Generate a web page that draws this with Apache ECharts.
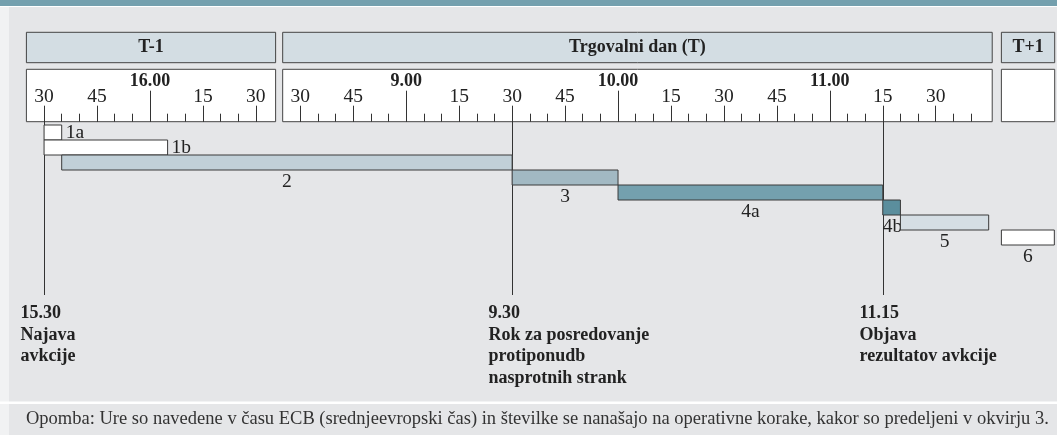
<!DOCTYPE html>
<html><head><meta charset="utf-8">
<script src="https://cdn.jsdelivr.net/npm/echarts@6/dist/echarts.min.js"></script>
<style>html,body{margin:0;padding:0;background:#e5e6e8}#c{width:1057px;height:435px}</style>
</head><body><div id="c"></div>
<script>
// ---------------- data ----------------
const dayKeys = ['T-1', 'T', 'T+1'];
const dayNames = ['T-1', 'Trgovalni dan (T)', 'T+1'];

const stepIds      = ['1a', '1b', '2', '3', '4a', '4b', '5', '6'];
const stepStartDay = ['T-1', 'T-1', 'T-1', 'T', 'T', 'T', 'T', 'T+1'];
const stepStart    = ['15.30', '15.30', '15.35', '9.30', '10.00', '11.15', '11.20', '9.00'];
const stepEndDay   = ['T-1', 'T-1', 'T', 'T', 'T', 'T', 'T', 'T+1'];
const stepEnd      = ['15.35', '16.05', '9.30', '10.00', '11.15', '11.20', '11.45', '9.15'];

const eventDay  = ['T-1', 'T', 'T'];
const eventTime = ['15.30', '9.30', '11.15'];
const eventText = ['Najava\navkcije', 'Rok za posredovanje\nprotiponudb\nnasprotnih strank', 'Objava\nrezultatov avkcije'];

// ruler tick labels
const quarterLabels = {
  'T-1': ['15.30', '15.45', '16.15', '16.30'],
  'T':   ['8.30', '8.45', '9.15', '9.30', '9.45', '10.15', '10.30', '10.45', '11.15', '11.30'],
  'T+1': []
};
const hourLabels = { 'T-1': ['16.00'], 'T': ['9.00', '10.00', '11.00'], 'T+1': [] };
const minorRange = { 'T-1': ['15.30', '16.30'], 'T': ['8.30', '11.40'], 'T+1': null };

const footnote = 'Opomba: Ure so navedene v času ECB (srednjeevropski čas) in številke se nanašajo na operativne korake, kakor so predeljeni v okvirju 3.';

// ---------------- layout ----------------
const PX = 3.53, X0 = 26.4;
const WIN = {
  'T-1': { from: 925, to: 995.6, off: 0 },
  'T':   { from: 505, to: 706,   off: 72.6 },
  'T+1': { from: 540, to: 555.1, off: 276.2 }
};
const VMAX = 291.3;
const SERIF = '"Liberation Serif", "Times New Roman", serif';
const STYLE = {
  '1a': { fill: '#ffffff', label: 'right' },
  '1b': { fill: '#ffffff', label: 'right' },
  '2':  { fill: '#c1d0d8', label: 'below' },
  '3':  { fill: '#a2b9c3', label: 'below' },
  '4a': { fill: '#74a0ae', label: 'below' },
  '4b': { fill: '#5b8e9d', label: 'belowLeft' },
  '5':  { fill: '#d5dee4', label: 'below' },
  '6':  { fill: '#ffffff', label: 'below' }
};

function toMin(s) { const p = s.split('.').map(Number); return p[0] * 60 + p[1]; }
function virt(day, s) { const w = WIN[day]; return w.off + toMin(s) - w.from; }

const grids = [], xAxes = [], yAxes = [], series = [], graphics = [];

// backgrounds
graphics.push({ type: 'rect', z: -100, silent: true, shape: { x: 0, y: 0, width: 1057, height: 6 }, style: { fill: '#74a0ae' } });
graphics.push({ type: 'rect', z: -100, silent: true, shape: { x: 0, y: 6, width: 1057, height: 1 }, style: { fill: '#ffffff' } });
graphics.push({ type: 'rect', z: -100, silent: true, shape: { x: 0, y: 7, width: 9, height: 428 }, style: { fill: '#f1f2f3' } });
graphics.push({ type: 'rect', z: -100, silent: true, shape: { x: 0, y: 401.5, width: 1057, height: 2.5 }, style: { fill: '#ffffff' } });
graphics.push({ type: 'text', z: 100, silent: true, x: 26, y: 419,
  style: { text: footnote, font: '18.5px ' + SERIF, fill: '#333', align: 'left', verticalAlign: 'middle', textAlign: 'left', textVerticalAlign: 'middle' } });

dayKeys.forEach((d, k) => {
  const w = WIN[d];
  const left = X0 + w.off * PX, width = (w.to - w.from) * PX;
  // header box
  grids.push({ left, top: 32.3, width, height: 30.4, show: true, backgroundColor: '#d3dde3', borderColor: '#444', borderWidth: 1 });
  let gi = grids.length - 1;
  xAxes.push({ gridIndex: gi, type: 'value', show: false, min: 0, max: 1 });
  yAxes.push({ gridIndex: gi, type: 'value', show: false, min: 0, max: 1 });
  graphics.push({ type: 'text', z: 100, silent: true, x: left + width / 2, y: 47.8,
    style: { text: dayNames[k], font: 'bold 18px ' + SERIF, fill: '#222', align: 'center', verticalAlign: 'middle', textAlign: 'center', textVerticalAlign: 'middle' } });
  // ruler box
  grids.push({ left, top: 69.3, width, height: 52.4, show: true, backgroundColor: '#ffffff', borderColor: '#444', borderWidth: 1 });
  gi = grids.length - 1;
  yAxes.push({ gridIndex: gi, type: 'value', show: false, min: 0, max: 1 });
  const base = { gridIndex: gi, type: 'value', min: w.from, max: w.to, position: 'bottom',
    axisLine: { show: false }, splitLine: { show: false } };
  const minor = [];
  if (minorRange[d]) for (let m = toMin(minorRange[d][0]); m <= toMin(minorRange[d][1]); m += 5) minor.push(m);
  const quarters = quarterLabels[d].map(toMin);
  const hours = hourLabels[d].map(toMin);
  xAxes.push(Object.assign({}, base, {
    axisTick: { show: minor.length > 0, inside: true, length: 8, customValues: minor, lineStyle: { color: '#333' } },
    axisLabel: { show: false } }));
  xAxes.push(Object.assign({}, base, {
    axisTick: { show: quarters.length > 0, inside: true, length: 16, customValues: quarters, lineStyle: { color: '#333' } },
    axisLabel: { show: quarters.length > 0, inside: true, margin: 15, customValues: quarters,
      formatter: v => String(v % 60), fontSize: 19.5, fontFamily: SERIF, color: '#222' } }));
  xAxes.push(Object.assign({}, base, {
    axisTick: { show: hours.length > 0, inside: true, length: 31, customValues: hours, lineStyle: { color: '#333' } },
    axisLabel: { show: hours.length > 0, inside: true, margin: 31, customValues: hours,
      formatter: v => Math.floor(v / 60) + '.00', fontSize: 18, fontWeight: 'bold', fontFamily: SERIF, color: '#222' } }));
});

// bars grid
grids.push({ left: X0, top: 125, width: VMAX * PX, height: 120 });
const gBars = grids.length - 1;
xAxes.push({ gridIndex: gBars, type: 'value', show: false, min: 0, max: VMAX });
const xBars = xAxes.length - 1;
yAxes.push({ gridIndex: gBars, type: 'category', show: false, inverse: true, data: stepIds });
const yBars = yAxes.length - 1;

// event lines grid
grids.push({ left: X0, top: 106, width: VMAX * PX, height: 189 });
const gEv = grids.length - 1;
xAxes.push({ gridIndex: gEv, type: 'value', show: false, min: 0, max: VMAX });
const xEv = xAxes.length - 1;
yAxes.push({ gridIndex: gEv, type: 'value', show: false, min: 0, max: 1 });
const yEv = yAxes.length - 1;

series.push({
  type: 'custom', xAxisIndex: xEv, yAxisIndex: yEv, z: 3, silent: true,
  data: eventDay.map((d, i) => [virt(d, eventTime[i]), i]),
  encode: { x: 0 },
  renderItem(params, api) {
    const i = api.value(1);
    const p = api.coord([api.value(0), 0.5]);
    const cs = params.coordSys;
    const x = Math.round(p[0]) + 0.5;
    return { type: 'group', children: [
      { type: 'line', shape: { x1: x, y1: cs.y, x2: x, y2: cs.y + cs.height }, style: { stroke: '#333', lineWidth: 1 } },
      { type: 'text', style: { text: eventTime[i] + '\n' + eventText[i], x: x - 24, y: cs.y + cs.height + 8,
        font: 'bold 18px ' + SERIF, lineHeight: 21.5, fill: '#222', align: 'left', verticalAlign: 'top' } }
    ] };
  }
});

series.push({
  type: 'custom', xAxisIndex: xBars, yAxisIndex: yBars, z: 4, silent: true,
  data: stepIds.map((id, i) => [virt(stepStartDay[i], stepStart[i]), virt(stepEndDay[i], stepEnd[i]), i]),
  encode: { x: [0, 1], y: 2 },
  renderItem(params, api) {
    const i = api.value(2);
    const s = api.coord([api.value(0), i]);
    const e = api.coord([api.value(1), i]);
    const h = api.size([0, 1])[1];
    const y0 = s[1] - h / 2;
    const st = STYLE[stepIds[i]];
    let tx, ty, align, va;
    if (st.label === 'right') { tx = e[0] + 4; ty = s[1]; align = 'left'; va = 'middle'; }
    else if (st.label === 'belowLeft') { tx = s[0]; ty = y0 + h + 2; align = 'left'; va = 'top'; }
    else { tx = (s[0] + e[0]) / 2; ty = y0 + h + 2; align = 'center'; va = 'top'; }
    return { type: 'group', children: [
      { type: 'rect', shape: { x: s[0], y: y0, width: e[0] - s[0], height: h }, style: { fill: st.fill, stroke: '#3a3a3a', lineWidth: 1 } },
      { type: 'text', style: { text: stepIds[i], x: tx, y: ty, align, verticalAlign: va, font: '19.5px ' + SERIF, fill: '#222' } }
    ] };
  }
});

const chart = echarts.init(document.getElementById('c'), null, { renderer: 'canvas' });
chart.setOption({
  backgroundColor: '#e5e6e8',
  animation: false,
  grid: grids, xAxis: xAxes, yAxis: yAxes, series,
  graphic: { elements: graphics }
});
</script></body></html>
